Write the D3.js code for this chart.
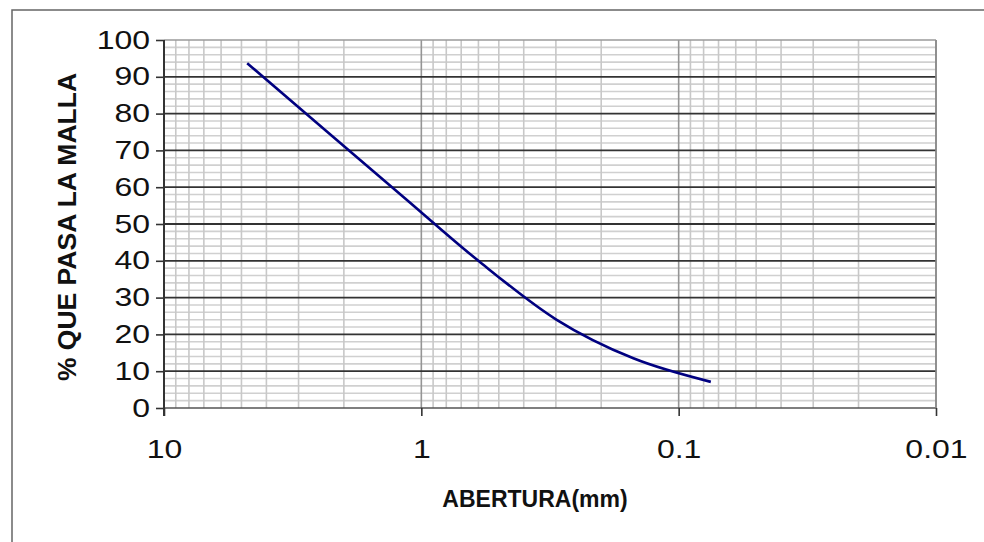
<!DOCTYPE html>
<html>
<head>
<meta charset="utf-8">
<script src="https://cdn.jsdelivr.net/npm/d3@7"></script>
<style>
  html, body { margin: 0; padding: 0; background: #fff; }
  svg { display: block; }
  text { font-family: "Liberation Sans", Arial, sans-serif; }
</style>
</head>
<body>
<svg id="chart" width="984" height="542"></svg>
<script>
// ---- data ----
const aperture = [4.75, 2.36, 1.18, 0.6, 0.3, 0.15, 0.075];   // mm
const passing  = [93.7, 75.5, 57.5, 40.0, 24.1, 13.5, 7.1];    // % passing
const xTickValues = [10, 1, 0.1, 0.01];
const xTickLabels = ["10", "1", "0.1", "0.01"];
const yTickValues = [0, 10, 20, 30, 40, 50, 60, 70, 80, 90, 100];
const xTitle = "ABERTURA(mm)";
const yTitle = "% QUE PASA LA MALLA";

// ---- layout ----
const L = 164, R = 936, T = 40, B = 408;
const TICK_FS = 25, STRETCH = 1.28;
const svg = d3.select("#chart");

// outer frame
svg.append("rect").attr("x", 12).attr("y", 10).attr("width", 990).attr("height", 560)
  .attr("fill", "#fff").attr("stroke", "#666").attr("stroke-width", 1.5);

const x = d3.scaleLog().domain([10, 0.01]).range([L, R]);
const y = d3.scaleLinear().domain([0, 100]).range([B, T]);

const g = svg.append("g");

// minor horizontal grid (every 2)
const yMinor = d3.range(0, 101, 2).filter(v => v % 10 !== 0);
g.selectAll(".hmin").data(yMinor).enter().append("line")
  .attr("x1", L).attr("x2", R).attr("y1", d => y(d)).attr("y2", d => y(d))
  .attr("stroke", "#d0d0d0").attr("stroke-width", 1.6);

// minor vertical grid
const xMinor = [];
[1, 0.1, 0.01].forEach(dec => { for (let k = 2; k <= 9; k++) xMinor.push(dec * k); });
g.selectAll(".vmin").data(xMinor).enter().append("line")
  .attr("x1", d => x(d)).attr("x2", d => x(d)).attr("y1", T).attr("y2", B)
  .attr("stroke", "#c8c8c8").attr("stroke-width", 1.6);

// decade vertical lines
g.selectAll(".vmaj").data([1, 0.1, 0.01]).enter().append("line")
  .attr("x1", d => x(d)).attr("x2", d => x(d)).attr("y1", T).attr("y2", B)
  .attr("stroke", "#959595").attr("stroke-width", 1.6);

// top border
g.append("line").attr("x1", L).attr("x2", R).attr("y1", y(100)).attr("y2", y(100))
  .attr("stroke", "#9a9a9a").attr("stroke-width", 1.6);

// major horizontal grid (every 10)
g.selectAll(".hmaj").data(yTickValues.filter(v => v > 0 && v < 100)).enter().append("line")
  .attr("x1", L).attr("x2", R).attr("y1", d => y(d)).attr("y2", d => y(d))
  .attr("stroke", "#333").attr("stroke-width", 1.8);

// axes
const xAxis = d3.axisBottom(x).tickValues(xTickValues)
  .tickFormat((d, i) => xTickLabels[i]).tickSize(8).tickPadding(24);
const gx = svg.append("g").attr("transform", `translate(0,${B})`).call(xAxis);
gx.select(".domain").attr("stroke", "#555").attr("stroke-width", 1.6).attr("d", `M${L},0H${R}`);
gx.selectAll(".tick line").attr("stroke", "#333").attr("stroke-width", 1.6);
gx.selectAll(".tick text").each(function() {
  const t = d3.select(this);
  const yy = +t.attr("y");
  t.attr("y", null).attr("dy", "0.71em")
   .attr("transform", `translate(0,${yy}) scale(${STRETCH},1)`);
}).attr("font-size", TICK_FS).attr("fill", "#111")
  .attr("font-family", "Liberation Sans, Arial, sans-serif");

const yAxis = d3.axisLeft(y).tickValues(yTickValues).tickSize(8).tickPadding(6);
const gy = svg.append("g").attr("transform", `translate(${L},0)`).call(yAxis);
gy.select(".domain").attr("stroke", "#333").attr("stroke-width", 2).attr("d", `M0,${T}V${B + 8}`);
gy.selectAll(".tick line").attr("stroke", "#333").attr("stroke-width", 1.6);
gy.selectAll(".tick text").each(function() {
  const t = d3.select(this);
  const xx = +t.attr("x");
  t.attr("x", null).attr("transform", `translate(${xx},0) scale(${STRETCH},1)`);
}).attr("font-size", TICK_FS).attr("fill", "#111")
  .attr("font-family", "Liberation Sans, Arial, sans-serif");

// right border
svg.append("line").attr("x1", R).attr("x2", R).attr("y1", T).attr("y2", B)
  .attr("stroke", "#8a8a8a").attr("stroke-width", 1.6);

// curve
const pts = aperture.map((a, i) => [x(a), y(passing[i])]);
svg.append("path").attr("d", d3.line().curve(d3.curveMonotoneX)(pts))
  .attr("fill", "none").attr("stroke", "#000080").attr("stroke-width", 2.6);

// titles
svg.append("text").attr("x", 535).attr("y", 507).attr("text-anchor", "middle")
  .attr("font-size", 23).attr("font-weight", "bold").attr("fill", "#111").text(xTitle);
svg.append("text").attr("transform", "translate(76,227) rotate(-90)").attr("text-anchor", "middle")
  .attr("font-size", 26.5).attr("font-weight", "bold").attr("fill", "#111").text(yTitle);
</script>
</body>
</html>
